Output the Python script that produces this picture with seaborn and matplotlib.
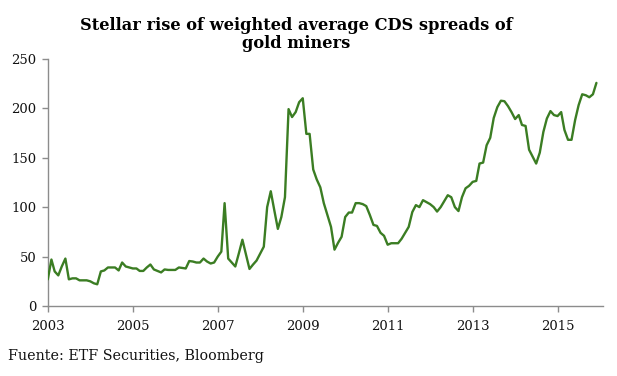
import matplotlib
matplotlib.use("Agg")
import matplotlib.pyplot as plt
import seaborn as sns
import pandas as pd

# Monthly weighted average CDS spreads of gold miners, Jan 2003 - Dec 2015
start_month = "2003-01-01"
cds_spread = [
    27, 47, 35, 31, 40, 48, 27, 28, 28, 26, 26, 26,
    25, 23, 22, 35, 36, 39, 39, 39, 36, 44, 40, 39,
    38, 38, 35.5, 35.5, 39, 42, 37, 35.5, 34, 37, 36.5, 36.5,
    36.5, 39, 38.5, 38, 45.5, 45, 44, 44, 48, 45, 43, 44,
    50, 55, 104, 48, 44, 40, 53, 67, 52, 37.5, 42, 46,
    53, 60, 100, 116, 97, 78, 90, 110, 199, 191, 196, 206,
    210, 174, 174, 138, 128, 120, 104, 92, 80, 57, 64, 70,
    90, 94.5, 94.5, 104, 104, 103, 101, 92, 82, 81, 74, 71,
    62, 63.5, 63.5, 63.5, 68, 74, 80, 95, 102, 100, 107, 105,
    103, 100, 95.5, 100, 106, 112, 110, 100, 96, 110, 119, 121.5,
    125.5, 126.5, 144, 145, 162.5, 170, 190, 201, 207.5, 207, 202, 196,
    189, 193, 183, 182, 158, 151, 144, 155, 176, 189.5, 197, 193,
    192, 196, 178, 168, 168, 188, 203, 214, 213, 211, 214, 225.5,
]
y_ticks = [0, 50, 100, 150, 200, 250]
x_tick_years = ["2003", "2005", "2007", "2009", "2011", "2013", "2015"]
title_text = "Stellar rise of weighted average CDS spreads of\ngold miners"
source_text = "Fuente: ETF Securities, Bloomberg"

df = pd.DataFrame({
    "date": pd.date_range(start_month, periods=len(cds_spread), freq="MS"),
    "spread": cds_spread,
})

sns.set_theme(style="white")
plt.rcParams["font.family"] = ["DejaVu Serif"]

fig = plt.figure(figsize=(6.17, 3.76), dpi=100)
ax = fig.add_axes([0.0775, 0.186, 0.8995, 0.658])

sns.lineplot(data=df, x="date", y="spread", ax=ax, color="#3b7d23",
             linewidth=1.7, errorbar=None)

ax.set_ylim(0, 250)
ax.set_xlim(pd.Timestamp("2003-01-01"), pd.Timestamp("2016-01-25"))
ax.set_yticks(y_ticks)
ax.set_xticks([pd.Timestamp(y + "-01-01") for y in x_tick_years])
ax.set_xticklabels(x_tick_years)
ax.set_xlabel("")
ax.set_ylabel("")

for side in ["top", "right"]:
    ax.spines[side].set_visible(False)
for side in ["left", "bottom"]:
    ax.spines[side].set_color("#8c8c8c")
    ax.spines[side].set_linewidth(1.0)
    ax.spines[side].set_zorder(0.5)

ax.tick_params(axis="both", which="both", length=4, width=1.0, color="#8c8c8c",
               labelsize=9.5, labelcolor="#111111", direction="out",
               left=True, bottom=True)
ax.tick_params(axis="x", pad=6)
ax.tick_params(axis="y", pad=4)

fig.text(0.48, 0.955, title_text, ha="center", va="top", fontsize=11.7,
         fontweight="bold", linespacing=1.1, color="#000000")
fig.text(0.013, 0.035, source_text, ha="left", va="bottom", fontsize=10.3,
         color="#111111")

fig.savefig("out.png", dpi=100)
